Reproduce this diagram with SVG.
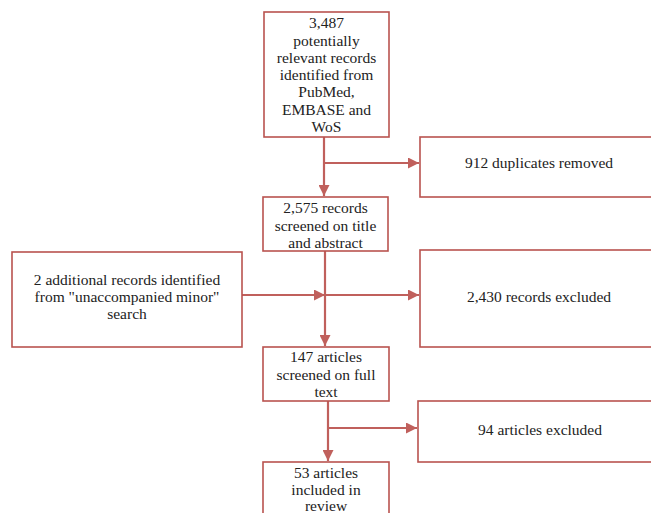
<svg xmlns="http://www.w3.org/2000/svg" width="651" height="513" viewBox="0 0 651 513">
<style>
.box{fill:#fff;stroke:#b9534f;stroke-width:1.6}
.t{font-family:"Liberation Serif","Tinos","Times New Roman","DejaVu Serif",serif;font-size:15.5px;fill:#222;text-anchor:middle}
.c{stroke:#c0605c;stroke-width:2.2;fill:none}
</style>
<defs>
<marker id="ah" viewBox="0 0 10 10" refX="10" refY="5" markerWidth="5" markerHeight="5" orient="auto" markerUnits="strokeWidth">
<path d="M0,0 L10,5 L0,10 z" fill="#c0605c"/>
</marker>
</defs>
<rect width="651" height="513" fill="#fff"/>
<g id="connectors">
<path class="c" d="M324,137 V196" marker-end="url(#ah)"/>
<path class="c" d="M324,163 H419" marker-end="url(#ah)"/>
<path class="c" d="M325,251 V346" marker-end="url(#ah)"/>
<path class="c" d="M242,295 H325" marker-end="url(#ah)"/>
<path class="c" d="M325,295 H419" marker-end="url(#ah)"/>
<path class="c" d="M328,401 V461" marker-end="url(#ah)"/>
<path class="c" d="M328,428 H417" marker-end="url(#ah)"/>
</g>
<g id="n1">
<rect class="box" x="264" y="12" width="125" height="125"/>
<text class="t" x="326.5" y="28">3,487</text>
<text class="t" x="326.5" y="46">potentially</text>
<text class="t" x="326.5" y="63">relevant records</text>
<text class="t" x="326.5" y="80">identified from</text>
<text class="t" x="326.5" y="97">PubMed,</text>
<text class="t" x="326.5" y="115">EMBASE and</text>
<text class="t" x="326.5" y="132">WoS</text>
</g>
<g id="n2">
<rect class="box" x="420" y="137" width="235" height="60"/>
<text class="t" x="539" y="168">912 duplicates removed</text>
</g>
<g id="n3">
<rect class="box" x="263" y="197" width="125" height="54"/>
<text class="t" x="325.5" y="213">2,575 records</text>
<text class="t" x="325.5" y="231">screened on title</text>
<text class="t" x="325.5" y="248">and abstract</text>
</g>
<g id="n4">
<rect class="box" x="12" y="252" width="230" height="95"/>
<text class="t" x="127" y="285">2 additional records identified</text>
<text class="t" x="127" y="302">from "unaccompanied minor"</text>
<text class="t" x="127" y="319">search</text>
</g>
<g id="n5">
<rect class="box" x="420" y="250" width="235" height="97"/>
<text class="t" x="539" y="302">2,430 records excluded</text>
</g>
<g id="n6">
<rect class="box" x="263" y="347" width="126" height="54"/>
<text class="t" x="326" y="362">147 articles</text>
<text class="t" x="326" y="380">screened on full</text>
<text class="t" x="326" y="397">text</text>
</g>
<g id="n7">
<rect class="box" x="418" y="401" width="237" height="61"/>
<text class="t" x="540" y="435">94 articles excluded</text>
</g>
<g id="n8">
<rect class="box" x="263" y="462" width="126" height="60"/>
<text class="t" x="326" y="478">53 articles</text>
<text class="t" x="326" y="495">included in</text>
<text class="t" x="326" y="511">review</text>
</g>
</svg>
